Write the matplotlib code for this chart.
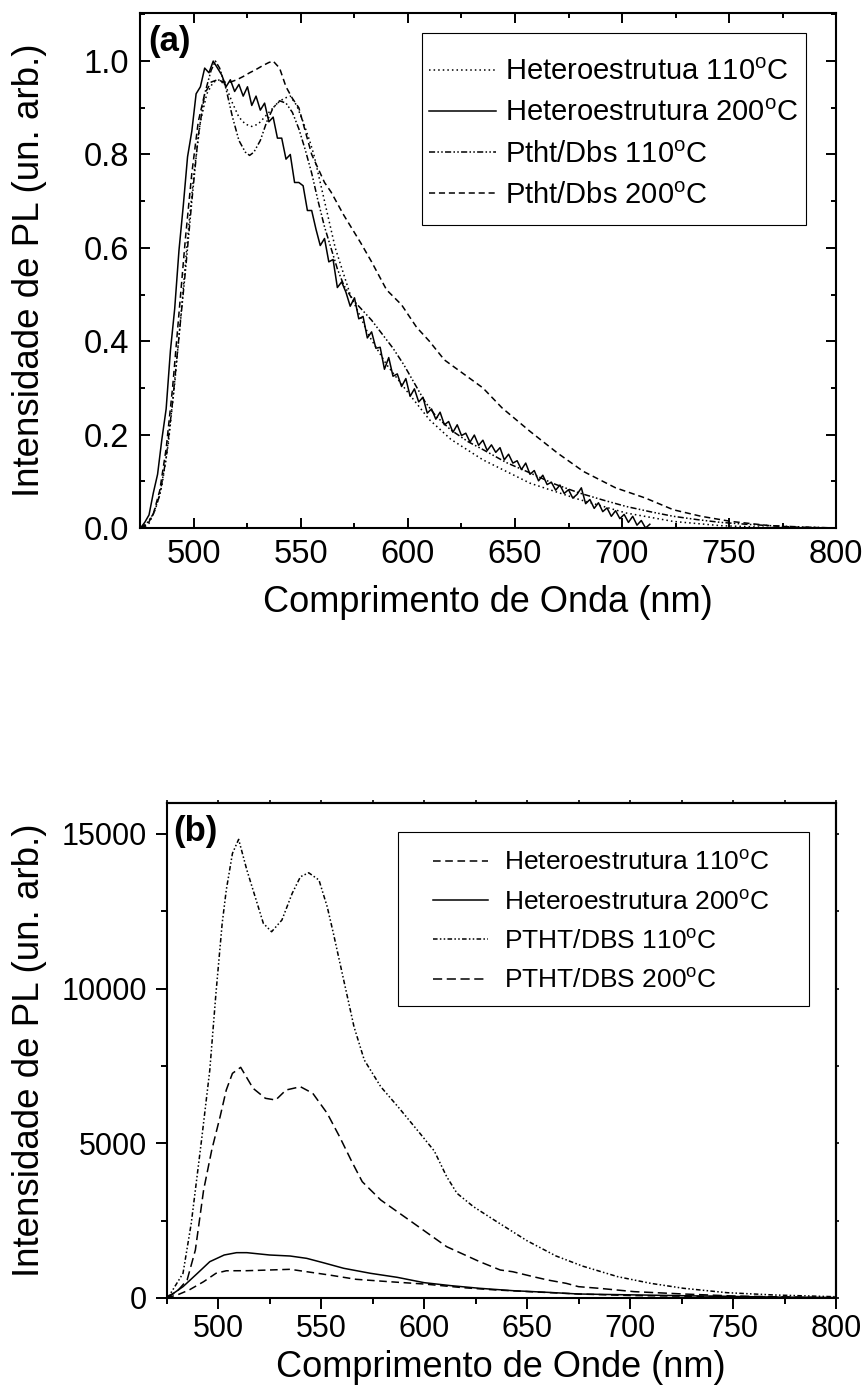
import numpy as np
import matplotlib
matplotlib.use("Agg")
import matplotlib.pyplot as plt
from matplotlib.patches import Rectangle
from matplotlib.ticker import MultipleLocator

plt.rcParams['font.family'] = ['Liberation Sans', 'DejaVu Sans']
plt.rcParams['mathtext.fontset'] = 'custom'
plt.rcParams['mathtext.rm'] = 'Liberation Sans'
plt.rcParams['mathtext.it'] = 'Liberation Sans:italic'
plt.rcParams['mathtext.bf'] = 'Liberation Sans:bold'

# ---------------- (a) normalised PL spectra ----------------
labels_a = ['Heteroestrutua 110$^{\\mathrm{o}}$C', 'Heteroestrutura 200$^{\\mathrm{o}}$C',
            'Ptht/Dbs 110$^{\\mathrm{o}}$C', 'Ptht/Dbs 200$^{\\mathrm{o}}$C']

wl_a_het110 = [475, 479, 482, 485, 488, 491, 494, 497, 500, 503, 506, 509, 512, 515, 518, 521,
               524, 527, 530, 533, 536, 539, 542, 545, 548, 551, 554, 556, 561, 566, 573, 582,
               590, 600, 610, 620, 635, 657, 680, 702, 724, 746, 770, 800]
pl_a_het110 = [0.0, 0.01, 0.04, 0.09, 0.18, 0.31, 0.46, 0.62, 0.76, 0.87, 0.93, 0.955, 0.96,
               0.945, 0.91, 0.88, 0.865, 0.86, 0.865, 0.88, 0.895, 0.91, 0.92, 0.925, 0.905,
               0.87, 0.83, 0.80, 0.70, 0.60, 0.50, 0.41, 0.35, 0.29, 0.232, 0.19, 0.146, 0.096,
               0.061, 0.032, 0.014, 0.005, 0.001, 0.0]

# noisy spectrum, 2 nm steps from 475 to 713 nm
wl_a_het200 = np.arange(475, 715, 2)
pl_a_het200 = [0.000, 0.012, 0.028, 0.075, 0.115, 0.190, 0.255, 0.380, 0.470, 0.595,
               0.690, 0.795, 0.850, 0.930, 0.945, 0.985, 0.975, 1.000, 0.985, 0.970,
               0.945, 0.960, 0.935, 0.950, 0.925, 0.945, 0.905, 0.925, 0.895, 0.910,
               0.870, 0.880, 0.835, 0.835, 0.790, 0.800, 0.740, 0.740, 0.733, 0.680,
               0.680, 0.640, 0.605, 0.620, 0.570, 0.575, 0.515, 0.527, 0.505, 0.475,
               0.493, 0.448, 0.453, 0.407, 0.420, 0.385, 0.387, 0.340, 0.365, 0.325,
               0.330, 0.303, 0.320, 0.282, 0.298, 0.270, 0.280, 0.246, 0.255, 0.233,
               0.248, 0.221, 0.228, 0.205, 0.221, 0.198, 0.203, 0.184, 0.199, 0.177,
               0.188, 0.166, 0.178, 0.162, 0.172, 0.146, 0.158, 0.139, 0.144, 0.125,
               0.139, 0.115, 0.123, 0.101, 0.113, 0.093, 0.098, 0.081, 0.092, 0.074,
               0.082, 0.064, 0.072, 0.086, 0.052, 0.061, 0.042, 0.054, 0.035, 0.043,
               0.025, 0.037, 0.020, 0.029, 0.012, 0.025, 0.006, 0.016, 0.000, 0.008]

wl_a_pd110 = [475, 478, 481, 484, 487, 490, 493, 496, 499, 502, 505, 508, 510, 512, 515, 518,
              521, 524, 526, 528, 531, 534, 537, 540, 543, 546, 549, 552, 555, 558, 561, 564,
              567, 570, 574, 578, 583, 588, 593, 598, 603, 608, 613, 620, 628, 635, 646, 657,
              668, 680, 691, 702, 713, 724, 735, 746, 758, 769, 785, 800]
pl_a_pd110 = [0.0, 0.01, 0.03, 0.07, 0.15, 0.27, 0.41, 0.55, 0.70, 0.84, 0.93, 0.98, 1.0,
              0.985, 0.94, 0.88, 0.83, 0.805, 0.798, 0.805, 0.83, 0.87, 0.90, 0.915, 0.91,
              0.89, 0.855, 0.81, 0.76, 0.70, 0.645, 0.60, 0.555, 0.52, 0.49, 0.47, 0.445,
              0.415, 0.385, 0.35, 0.31, 0.27, 0.24, 0.21, 0.185, 0.168, 0.14, 0.118, 0.095,
              0.075, 0.06, 0.046, 0.035, 0.025, 0.018, 0.012, 0.008, 0.005, 0.002, 0.0]

wl_a_pd200 = [475, 478, 481, 484, 487, 490, 493, 496, 499, 502, 505, 508, 511, 514, 517, 520,
              523, 526, 529, 532, 535, 537, 540, 543, 546, 549, 552, 555, 558, 561, 564, 567,
              570, 574, 578, 583, 590, 597, 604, 610, 617, 626, 635, 644, 657, 670, 682, 697,
              711, 724, 737, 751, 769, 780, 800]
pl_a_pd200 = [0.0, 0.005, 0.03, 0.08, 0.17, 0.30, 0.46, 0.62, 0.76, 0.87, 0.93, 0.955, 0.96,
              0.955, 0.955, 0.96, 0.967, 0.975, 0.982, 0.99, 0.997, 1.0, 0.985, 0.945, 0.92,
              0.90, 0.85, 0.80, 0.77, 0.74, 0.72, 0.695, 0.67, 0.64, 0.61, 0.57, 0.51, 0.478,
              0.43, 0.40, 0.36, 0.33, 0.30, 0.257, 0.207, 0.16, 0.121, 0.086, 0.064, 0.039,
              0.025, 0.014, 0.005, 0.002, 0.0]

# ---------------- (b) absolute PL intensity ----------------
labels_b = ['Heteroestrutura 110$^{\\mathrm{o}}$C', 'Heteroestrutura 200$^{\\mathrm{o}}$C',
            'PTHT/DBS 110$^{\\mathrm{o}}$C', 'PTHT/DBS 200$^{\\mathrm{o}}$C']

wl_b_het110 = [475, 477, 481, 486, 493, 499, 504, 514, 525, 535, 543, 554, 567, 583, 600, 619,
               635, 651, 675, 700, 750, 800]
pl_b_het110 = [0, 40, 120, 260, 527, 798, 880, 882, 905, 927, 850, 743, 604, 527, 452, 333,
               259, 205, 129, 80, 40, 10]

wl_b_het200 = [475, 476, 479, 483, 490, 496, 503, 509, 514, 525, 535, 543, 551, 561, 574, 587,
               600, 613, 627, 643, 660, 675, 702, 734, 770, 800]
pl_b_het200 = [0, 65, 180, 366, 798, 1174, 1390, 1465, 1465, 1390, 1357, 1282, 1142, 960,
               798, 668, 496, 399, 313, 237, 183, 129, 100, 65, 30, 10]

wl_b_pd110 = [475, 476, 478, 483, 487, 492, 496, 499, 502, 504, 507, 510, 514, 519, 522, 526,
              531, 536, 540, 544, 549, 553, 556, 561, 566, 571, 579, 588, 598, 605, 611, 616,
              624, 635, 650, 664, 677, 694, 710, 726, 747, 770, 800]
pl_b_pd110 = [0, 50, 259, 798, 2414, 5107, 7369, 9858, 12100, 13187, 14373, 14825, 13833,
              12757, 12110, 11839, 12217, 13080, 13617, 13746, 13510, 12647, 11787, 10278,
              8769, 7692, 6829, 6131, 5323, 4750, 3921, 3384, 2951, 2480, 1850, 1360, 1030,
              689, 474, 313, 172, 97, 40]

wl_b_pd200 = [475, 476, 480, 485, 489, 493, 497, 501, 504, 507, 511, 517, 523, 528, 533, 540,
              546, 553, 559, 565, 570, 579, 595, 611, 627, 637, 643, 653, 660, 669, 675, 685,
              702, 726, 750, 800]
pl_b_pd200 = [0, 40, 205, 582, 1551, 3490, 4800, 5860, 6723, 7262, 7456, 6778, 6455, 6400,
              6723, 6829, 6616, 5969, 5214, 4400, 3760, 3167, 2414, 1658, 1174, 905, 850,
              689, 582, 474, 366, 313, 205, 129, 65, 0]

style_a = [(0, (1, 2)), '-', (0, (4, 1.5, 1, 1.5, 1, 1.5)), (0, (4, 2.5))]
style_b = [(0, (5, 3)), '-', (0, (3, 1.5, 1, 1.5, 1, 1.5)), (0, (6, 3))]

fig = plt.figure(figsize=(8.66, 13.99), dpi=100)

# ---- panel (a)
ax1 = fig.add_axes([0.1622, 0.6226, 0.8032, 0.3681])
series_a = [(wl_a_het110, pl_a_het110), (wl_a_het200, pl_a_het200),
            (wl_a_pd110, pl_a_pd110), (wl_a_pd200, pl_a_pd200)]
for (x, y), ls, lab in zip(series_a, style_a, labels_a):
    ax1.plot(x, y, color='black', lw=1.1, ls=ls, label=lab)
ax1.set_xlim(475, 800)
ax1.set_ylim(0, 1.103)
ax1.xaxis.set_major_locator(MultipleLocator(50))
ax1.xaxis.set_minor_locator(MultipleLocator(25))
ax1.yaxis.set_major_locator(MultipleLocator(0.2))
ax1.yaxis.set_minor_locator(MultipleLocator(0.1))
ax1.yaxis.set_major_formatter(matplotlib.ticker.FormatStrFormatter('%.1f'))
ax1.tick_params(which='both', direction='in', top=True, right=True, width=1.4, labelsize=23.5, pad=8)
ax1.tick_params(which='major', length=7)
ax1.tick_params(which='minor', length=3.6)
for s in ax1.spines.values():
    s.set_linewidth(1.5)
ax1.set_xlabel('Comprimento de Onda (nm)', fontsize=26)
ax1.set_ylabel('Intensidade de PL (un. arb.)', fontsize=26.5)
ax1.xaxis.set_label_coords(0.5, -0.11, transform=ax1.transAxes)
ax1.yaxis.set_label_coords(-0.134, 0.5, transform=ax1.transAxes)
ax1.xaxis.label.set_va('top')
ax1.text(0.011, 0.977, '(a)', transform=ax1.transAxes, fontsize=25, fontweight='bold',
         ha='left', va='top')
ax1.legend(loc='upper left', bbox_to_anchor=(0.415, 0.912), frameon=False, fontsize=21,
           borderaxespad=0, borderpad=0, handlelength=2.3, handletextpad=0.3, labelspacing=0.45)
ax1.add_patch(Rectangle((0.405, 0.588), 0.552, 0.373, transform=ax1.transAxes, fill=False,
                        lw=0.8, ec='black', clip_on=False, zorder=5))

# ---- panel (b)
ax2 = fig.add_axes([0.1923, 0.0722, 0.7731, 0.3538])
series_b = [(wl_b_het110, pl_b_het110), (wl_b_het200, pl_b_het200),
            (wl_b_pd110, pl_b_pd110), (wl_b_pd200, pl_b_pd200)]
for (x, y), ls, lab in zip(series_b, style_b, labels_b):
    ax2.plot(x, y, color='black', lw=1.1, ls=ls, label=lab)
ax2.set_xlim(475, 800)
ax2.set_ylim(0, 16000)
ax2.xaxis.set_major_locator(MultipleLocator(50))
ax2.xaxis.set_minor_locator(MultipleLocator(25))
ax2.yaxis.set_major_locator(MultipleLocator(5000))
ax2.yaxis.set_minor_locator(MultipleLocator(2500))
ax2.tick_params(which='both', direction='out', width=1.4, labelsize=22, pad=6)
ax2.tick_params(axis='x', pad=3.5)
ax2.tick_params(which='major', length=8)
ax2.tick_params(which='minor', length=4)
for s in ax2.spines.values():
    s.set_linewidth(1.5)
# small outward ticks on top and right
sec_x = ax2.secondary_xaxis('top')
sec_x.xaxis.set_major_locator(MultipleLocator(25))
sec_x.tick_params(which='both', direction='out', length=2.5, width=1.2, labeltop=False)
sec_x.spines['top'].set_linewidth(1.5)
sec_y = ax2.secondary_yaxis('right')
sec_y.yaxis.set_major_locator(MultipleLocator(2500))
sec_y.tick_params(which='both', direction='out', length=2.5, width=1.2, labelright=False)
sec_y.spines['right'].set_linewidth(1.5)
ax2.set_xlabel('Comprimento de Onde (nm)', fontsize=26)
ax2.set_ylabel('Intensidade de PL (un. arb.)', fontsize=26.5)
ax2.xaxis.set_label_coords(0.5, -0.106, transform=ax2.transAxes)
ax2.yaxis.set_label_coords(-0.178, 0.5, transform=ax2.transAxes)
ax2.xaxis.label.set_va('top')
ax2.text(0.0097, 0.976, '(b)', transform=ax2.transAxes, fontsize=25, fontweight='bold',
         ha='left', va='top')
ax2.legend(loc='upper left', bbox_to_anchor=(0.398, 0.903), frameon=False, fontsize=19,
           borderaxespad=0, borderpad=0, handlelength=2.1, handletextpad=0.6, labelspacing=0.58)
ax2.add_patch(Rectangle((0.346, 0.590), 0.614, 0.351, transform=ax2.transAxes, fill=False,
                        lw=0.8, ec='black', clip_on=False, zorder=5))

fig.savefig('out.png', dpi=100)
